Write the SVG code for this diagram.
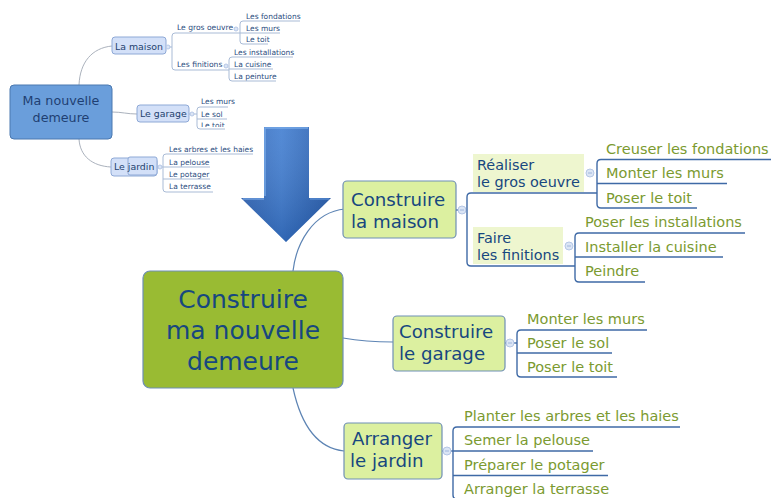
<svg xmlns="http://www.w3.org/2000/svg" width="771" height="498" viewBox="0 0 771 498">
  <defs>
    <style>
      text { font-family: "DejaVu Sans", Verdana, sans-serif; }
      .conn { fill: none; stroke: #5d84b4; stroke-width: 1.2; }
      .brk { fill: none; stroke: #3f6aa6; stroke-width: 1.4; }
      .mbrk { fill: none; stroke: #a9bbd6; stroke-width: 1; }
      .mconn { fill: none; stroke: #a0a8b4; stroke-width: 0.9; }
      .root { fill: #99bb33; stroke: #6f8fb5; stroke-width: 1.2; }
      .main { fill: #dcf0a0; stroke: #6f8fb5; stroke-width: 1.2; }
      .subbg { fill: #eef6cf; }
      .t-root { font-size: 25px; fill: #17477f; text-anchor: middle; }
      .t-main { font-size: 18.2px; fill: #17477f; }
      .t-sub { font-size: 14.4px; fill: #17477f; }
      .t-leaf { font-size: 14.5px; fill: #7b9a30; }
      .mroot { fill: #6a9edb; stroke: #4a78b0; stroke-width: 1; }
      .mmain { fill: #d3e0f8; stroke: #8ea9d6; stroke-width: 1; }
      .t-mroot { font-size: 12.7px; fill: #1f3f72; text-anchor: middle; }
      .t-mmain { font-size: 9.4px; fill: #23426f; }
      .t-msub { font-size: 7.6px; fill: #2b4d80; }
      .t-mleaf { font-size: 7.5px; fill: #2b4d80; }
      .knob { fill: #dbe5f5; stroke: #b5c7e6; stroke-width: 1; }
      .knob-m { stroke: #9fb6dc; stroke-width: 1; }
    </style>
    <linearGradient id="arrowFill" x1="0" y1="0" x2="1" y2="0">
      <stop offset="0" stop-color="#2e63b4"/>
      <stop offset="0.45" stop-color="#3d7bd0"/>
      <stop offset="1" stop-color="#1f55a6"/>
    </linearGradient>
    <linearGradient id="arrowShade" x1="0" y1="0" x2="0" y2="1">
      <stop offset="0" stop-color="#ffffff" stop-opacity="0.12"/>
      <stop offset="1" stop-color="#0a2a60" stop-opacity="0.25"/>
    </linearGradient>
    <clipPath id="clipToit">
      <rect x="195" y="118" width="40" height="9"/>
    </clipPath>
  </defs>

  <rect width="771" height="498" fill="#ffffff"/>

  <!-- ===== Small overview map (top left) ===== -->
  <g id="overview-connectors">
    <path class="mconn" d="M79,85 C80,62 92,48 112,46"/>
    <path class="mconn" d="M112,112 C122,112 127,114 137,114"/>
    <path class="mconn" d="M79,139 C80,156 92,166 111,167"/>
    <!-- La maison branches -->
    <path class="mbrk" d="M166,47 H172"/>
    <path class="mbrk" d="M240,33 H175 Q172,33 172,36 V67 Q172,70 175,70 H229"/>
    <path class="mbrk" d="M300,21 H243 Q240,21 240,24 V41 Q240,44 243,44 H268"/>
    <path class="mbrk" d="M240,33 H280"/>
    <path class="mbrk" d="M293,57 H232 Q229,57 229,60 V78 Q229,81 232,81 H276"/>
    <path class="mbrk" d="M229,69 H273"/>
    <!-- Le garage branches -->
    <path class="mbrk" d="M189,114 H197"/>
    <path class="mbrk" d="M228,107 H200 Q197,107 197,110 V126 Q197,129 200,129 H225"/>
    <path class="mbrk" d="M197,119 H227"/>
    <!-- Le jardin branches -->
    <path class="mbrk" d="M157,167 H163"/>
    <path class="mbrk" d="M253,154 H166 Q163,154 163,157 V189 Q163,192 166,192 H213"/>
    <path class="mbrk" d="M163,167 H210"/>
    <path class="mbrk" d="M163,179 H210"/>
  </g>

  <g id="ov-root">
    <rect class="mroot" x="10" y="85" width="102" height="54" rx="4"/>
    <text class="t-mroot" x="61" y="105">Ma nouvelle</text>
    <text class="t-mroot" x="61" y="122">demeure</text>
  </g>

  <g id="ov-maison">
    <rect class="mmain" x="112" y="37" width="54" height="17" rx="3"/>
    <text class="t-mmain" x="115" y="49.5">La maison</text>
    <circle class="knob" cx="168" cy="47" r="2"/>
    <text class="t-msub" x="177" y="30">Le gros oeuvre</text>
    <circle class="knob" cx="236" cy="29" r="2"/>
    <text class="t-mleaf" x="246" y="18.5">Les fondations</text>
    <text class="t-mleaf" x="246" y="30.5">Les murs</text>
    <text class="t-mleaf" x="246" y="42">Le toit</text>
    <text class="t-msub" x="177" y="66.5">Les finitions</text>
    <circle class="knob" cx="226" cy="66" r="2"/>
    <text class="t-mleaf" x="234" y="55">Les installations</text>
    <text class="t-mleaf" x="234" y="67">La cuisine</text>
    <text class="t-mleaf" x="234" y="78.5">La peinture</text>
  </g>

  <g id="ov-garage">
    <rect class="mmain" x="137" y="105" width="52" height="17" rx="3"/>
    <text class="t-mmain" x="140" y="117">Le garage</text>
    <circle class="knob" cx="192" cy="114" r="2"/>
    <text class="t-mleaf" x="201" y="104">Les murs</text>
    <text class="t-mleaf" x="201" y="116.5">Le sol</text>
    <text class="t-mleaf" x="201" y="128" clip-path="url(#clipToit)">Le toit</text>
  </g>

  <g id="ov-jardin">
    <rect class="mmain" x="111" y="158" width="46" height="18" rx="3"/>
    <rect class="mmain" x="128" y="157" width="29" height="18" rx="2" fill="none"/>
    <text class="t-mmain" x="114" y="170">Le jardin</text>
    <circle class="knob" cx="160" cy="167" r="2"/>
    <text class="t-mleaf" x="169" y="152">Les arbres et les haies</text>
    <text class="t-mleaf" x="169" y="164.5">La pelouse</text>
    <text class="t-mleaf" x="169" y="176.5">Le potager</text>
    <text class="t-mleaf" x="169" y="189">La terrasse</text>
  </g>

  <!-- ===== Big transition arrow ===== -->
  <g id="arrow">
    <polygon points="264,127 309,127 309,198 331,198 286,242 241,198 264,198" fill="url(#arrowFill)"/>
    <polygon points="264,127 309,127 309,198 331,198 286,242 241,198 264,198" fill="url(#arrowShade)"/>
    <polyline points="265,196 265,128 308,128" fill="none" stroke="#7fb0ec" stroke-width="1.5" opacity="0.8"/>
    <polyline points="243,199 264,199" fill="none" stroke="#79a8e6" stroke-width="1.5" opacity="0.8"/>
    <polyline points="310,199 329,199" fill="none" stroke="#5c91d8" stroke-width="1.5" opacity="0.8"/>
  </g>

  <!-- ===== Main map connectors ===== -->
  <g id="connectors">
    <path class="conn" d="M293,271 C296,245 312,212 345,209"/>
    <path class="conn" d="M343,338 C360,341 375,342 393,342"/>
    <path class="conn" d="M293,388 C300,420 315,448 344,451"/>

    <!-- Construire la maison -->
    <path class="brk" d="M456,210 H467"/>
    <path class="brk" d="M597,193 H471 Q467,193 467,197 V262 Q467,266 471,266 H575"/>
    <path class="brk" d="M771,159.5 H601 Q597,159.5 597,163.5 V204 Q597,208 601,208 H697"/>
    <path class="brk" d="M597,183.5 H727"/>
    <path class="brk" d="M745,233 H579 Q575,233 575,237 V278 Q575,282 579,282 H645"/>
    <path class="brk" d="M575,257 H723"/>

    <!-- Construire le garage -->
    <path class="brk" d="M505,343 H517"/>
    <path class="brk" d="M647,330 H521 Q517,330 517,334 V373 Q517,377 521,377 H617"/>
    <path class="brk" d="M517,353 H612"/>

    <!-- Arranger le jardin -->
    <path class="brk" d="M442,451 H453"/>
    <path class="brk" d="M680,427 H457 Q453,427 453,431 V495 Q453,499 457,499 H620"/>
    <path class="brk" d="M453,451 H593"/>
    <path class="brk" d="M453,475.5 H608"/>
  </g>

  <!-- ===== Main map nodes ===== -->
  <g id="root">
    <rect class="root" x="143" y="271" width="200" height="117" rx="7"/>
    <text class="t-root" x="243" y="308">Construire</text>
    <text class="t-root" x="243" y="339">ma nouvelle</text>
    <text class="t-root" x="243" y="370">demeure</text>
  </g>

  <g id="maison">
    <rect class="main" x="343" y="181" width="113" height="57" rx="4"/>
    <text class="t-main" x="351" y="206">Construire</text>
    <text class="t-main" x="351" y="228">la maison</text>
    <circle class="knob" cx="462" cy="210" r="4"/>
    <line class="knob-m" x1="460" y1="210" x2="464" y2="210"/>
  </g>

  <g id="gros-oeuvre">
    <rect class="subbg" x="473" y="154" width="111" height="38"/>
    <text class="t-sub" x="477" y="170">Réaliser</text>
    <text class="t-sub" x="477" y="187">le gros oeuvre</text>
    <circle class="knob" cx="590" cy="173" r="4"/>
    <line class="knob-m" x1="588" y1="173" x2="592" y2="173"/>
    <text class="t-leaf" x="606" y="154">Creuser les fondations</text>
    <text class="t-leaf" x="606" y="178">Monter les murs</text>
    <text class="t-leaf" x="606" y="202.5">Poser le toit</text>
  </g>

  <g id="finitions">
    <rect class="subbg" x="473" y="227" width="90" height="37"/>
    <text class="t-sub" x="477" y="243">Faire</text>
    <text class="t-sub" x="477" y="260">les finitions</text>
    <circle class="knob" cx="569" cy="246" r="4"/>
    <line class="knob-m" x1="567" y1="246" x2="571" y2="246"/>
    <text class="t-leaf" x="585" y="227">Poser les installations</text>
    <text class="t-leaf" x="585" y="251.5">Installer la cuisine</text>
    <text class="t-leaf" x="585" y="276">Peindre</text>
  </g>

  <g id="garage">
    <rect class="main" x="393" y="316" width="112" height="55" rx="4"/>
    <text class="t-main" x="399" y="338">Construire</text>
    <text class="t-main" x="399" y="360">le garage</text>
    <circle class="knob" cx="510" cy="343" r="4"/>
    <line class="knob-m" x1="508" y1="343" x2="512" y2="343"/>
    <text class="t-leaf" x="527" y="324">Monter les murs</text>
    <text class="t-leaf" x="527" y="347.5">Poser le sol</text>
    <text class="t-leaf" x="527" y="371.5">Poser le toit</text>
  </g>

  <g id="jardin">
    <rect class="main" x="344" y="423" width="98" height="56" rx="4"/>
    <text class="t-main" x="352" y="445">Arranger</text>
    <text class="t-main" x="350" y="467">le jardin</text>
    <circle class="knob" cx="447" cy="451" r="4"/>
    <line class="knob-m" x1="445" y1="451" x2="449" y2="451"/>
    <text class="t-leaf" x="464" y="421">Planter les arbres et les haies</text>
    <text class="t-leaf" x="464" y="445">Semer la pelouse</text>
    <text class="t-leaf" x="464" y="469.5">Préparer le potager</text>
    <text class="t-leaf" x="464" y="493.5">Arranger la terrasse</text>
  </g>
</svg>
